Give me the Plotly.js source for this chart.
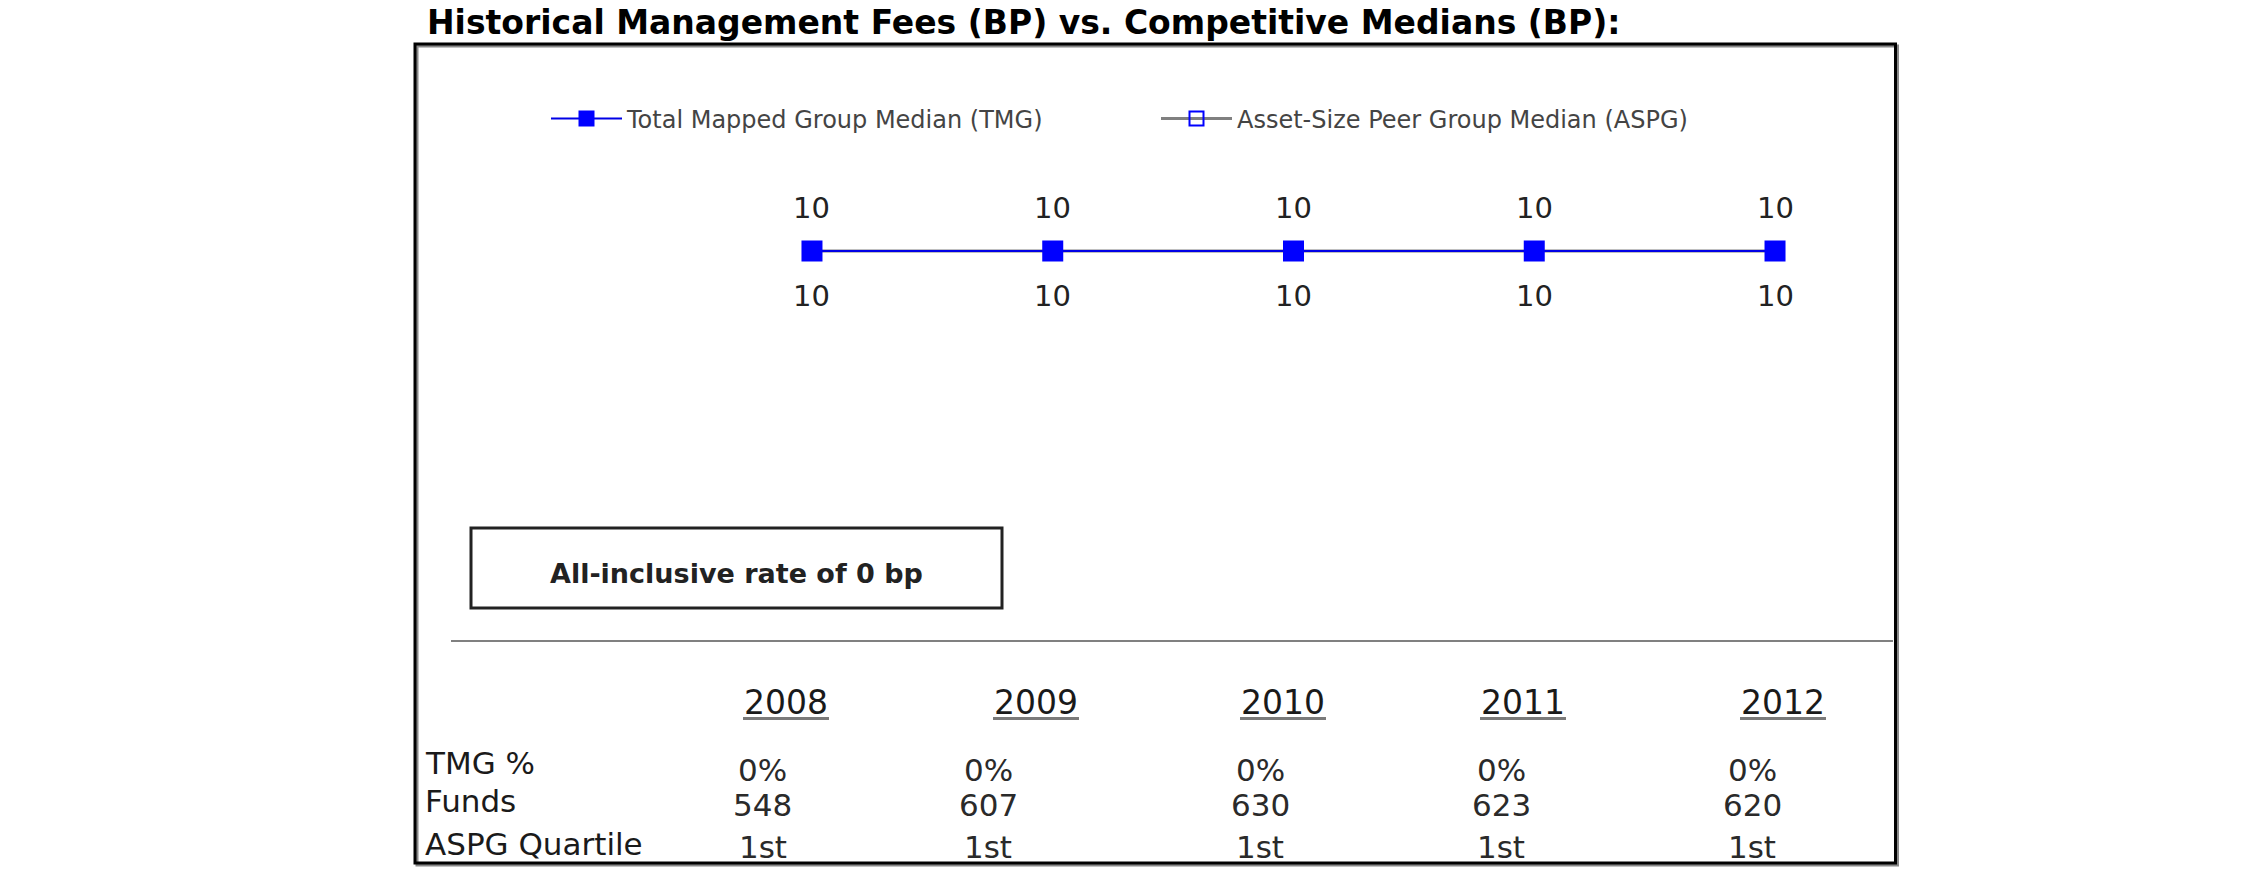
<!DOCTYPE html>
<html><head><meta charset="utf-8">
<script src="https://cdn.plot.ly/plotly-3.0.1.min.js"></script>
<style>html,body{margin:0;padding:0;background:#fff;}#chart{width:2250px;height:895px;}</style>
</head><body><div id="chart"></div>
<script>
// ---- data ----
const years = ['2008', '2009', '2010', '2011', '2012'];
const tmgMedian = [10, 10, 10, 10, 10];
const aspgMedian = [10, 10, 10, 10, 10];
const tmgPct = ['0%', '0%', '0%', '0%', '0%'];
const funds = [548, 607, 630, 623, 620];
const aspgQuartile = ['1st', '1st', '1st', '1st', '1st'];
const rowLabels = ['TMG %', 'Funds', 'ASPG Quartile'];
const seriesNames = ['Total Mapped Group Median (TMG)', 'Asset-Size Peer Group Median (ASPG)'];
const allInclusiveRate = 0;
const chartTitle = 'Historical Management Fees (BP) vs. Competitive Medians (BP):';

// ---- layout helpers ----
const W = 2250, H = 895;
const px = x => x / W, py = y => 1 - y / H;
const FONT = 'DejaVu Sans';

const traces = [
  {
    name: seriesNames[1], x: years, y: aspgMedian, type: 'scatter', mode: 'lines+markers',
    line: {color: '#808080', width: 3},
    marker: {symbol: 'square-open', size: 14, color: '#0000FF', line: {width: 2, color: '#0000FF'}},
    legend: 'legend2', hoverinfo: 'skip'
  },
  {
    name: seriesNames[0], x: years, y: tmgMedian, type: 'scatter', mode: 'lines+markers',
    line: {color: '#0000E6', width: 2},
    marker: {symbol: 'square', size: 21, color: '#0000FF'},
    legend: 'legend', hoverinfo: 'skip'
  }
];

const annotations = [];
const shapes = [];

// point labels (x given as category index)
years.forEach((yr, i) => {
  annotations.push({x: i, y: tmgMedian[i], xref: 'x', yref: 'y', text: String(tmgMedian[i]),
    showarrow: false, yshift: 43, font: {family: FONT, size: 29, color: '#222'}});
  annotations.push({x: i, y: aspgMedian[i], xref: 'x', yref: 'y', text: String(aspgMedian[i]),
    showarrow: false, yshift: -45, font: {family: FONT, size: 29, color: '#222'}});
});

// rate box
shapes.push({type: 'rect', xref: 'paper', yref: 'paper', x0: px(471), x1: px(1002), y0: py(528), y1: py(608),
  line: {color: '#222', width: 3}, fillcolor: 'rgba(0,0,0,0)'});
annotations.push({xref: 'paper', yref: 'paper', x: px(736), y: py(573), xanchor: 'center', yanchor: 'middle',
  text: '<b>All-inclusive rate of ' + allInclusiveRate + ' bp</b>', showarrow: false,
  font: {family: FONT, size: 27, color: '#222'}});

// outer frame
shapes.push({type: 'rect', xref: 'paper', yref: 'paper', x0: px(417), x1: px(1897.5), y0: py(865), y1: py(46),
  line: {color: '#888', width: 3}, fillcolor: 'rgba(0,0,0,0)'});
shapes.push({type: 'rect', xref: 'paper', yref: 'paper', x0: px(415), x1: px(1895.5), y0: py(863), y1: py(44),
  line: {color: '#000', width: 3}, fillcolor: 'rgba(0,0,0,0)'});

// separator
shapes.push({type: 'line', xref: 'paper', yref: 'paper', x0: px(451), x1: px(1893), y0: py(641), y1: py(641),
  line: {color: '#808080', width: 2}});

// table
const headerX = [786, 1036, 1283, 1523, 1783];
const valueX = [763, 988, 1260, 1501, 1752];
const headerSize = 33, rowSize = 31, valSize = 31;
const cv = document.createElement('canvas').getContext('2d');
cv.font = headerSize + 'px "' + FONT + '"';
years.forEach((yr, i) => {
  annotations.push({xref: 'paper', yref: 'paper', x: px(headerX[i]), y: py(702), xanchor: 'center', yanchor: 'middle',
    text: yr, showarrow: false, font: {family: FONT, size: headerSize, color: '#1a1a1a'}});
  const w = cv.measureText(yr).width;
  shapes.push({type: 'line', xref: 'paper', yref: 'paper', x0: px(headerX[i] - w / 2 - 1), x1: px(headerX[i] + w / 2 + 1),
    y0: py(718.5), y1: py(718.5), line: {color: '#7a7a7a', width: 3}});
});
const rowY = [763, 801, 844];
rowLabels.forEach((lab, r) => {
  annotations.push({xref: 'paper', yref: 'paper', x: px(423), y: py(rowY[r]), xanchor: 'left', yanchor: 'middle',
    text: lab, showarrow: false, font: {family: FONT, size: rowSize, color: '#1a1a1a'}});
});
const valY = [769.5, 804.5, 846.5];
const rows = [tmgPct, funds, aspgQuartile];
rows.forEach((row, r) => {
  row.forEach((v, i) => {
    annotations.push({xref: 'paper', yref: 'paper', x: px(valueX[i]), y: py(valY[r]), xanchor: 'center', yanchor: 'middle',
      text: String(v), showarrow: false, font: {family: FONT, size: valSize, color: '#2a2a2a'}});
  });
});

const legendFont = {family: FONT, size: 24, color: '#444'};
const layout = {
  width: W, height: H,
  margin: {l: 0, r: 0, t: 0, b: 0, pad: 0},
  paper_bgcolor: '#fff', plot_bgcolor: 'rgba(0,0,0,0)',
  title: {text: '<b>' + chartTitle + '</b>', xref: 'paper', yref: 'paper', x: px(427), xanchor: 'left',
    y: py(22), yanchor: 'middle', font: {family: FONT, size: 33, color: '#000'}},
  xaxis: {type: 'category', range: [-0.5, 4.5], domain: [px(691.6), px(1895.4)], visible: false, fixedrange: true},
  yaxis: {range: [0, 20], domain: [py(351), py(151)], visible: false, fixedrange: true},
  showlegend: true,
  legend: {x: px(546), y: py(119), xanchor: 'left', yanchor: 'middle', bgcolor: 'rgba(0,0,0,0)',
    font: legendFont, itemwidth: 71, borderwidth: 0},
  legend2: {x: px(1156), y: py(119), xanchor: 'left', yanchor: 'middle', bgcolor: 'rgba(0,0,0,0)',
    font: legendFont, itemwidth: 71, borderwidth: 0},
  shapes: shapes,
  annotations: annotations,
  hovermode: false
};

Plotly.newPlot('chart', traces, layout, {displayModeBar: false, staticPlot: true});
</script>
</body></html>
